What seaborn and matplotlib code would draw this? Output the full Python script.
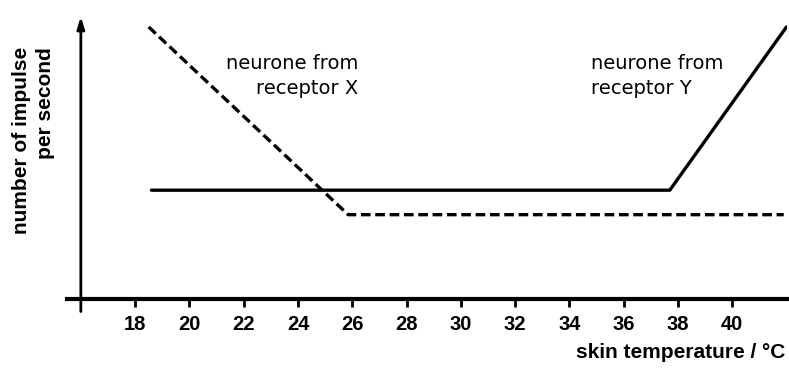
import matplotlib
matplotlib.use("Agg")
import matplotlib.pyplot as plt
import seaborn as sns
import pandas as pd

# ---- data ----
temp_receptor_x = [18.5, 25.85, 41.9]
rate_receptor_x = [100, 31, 31]
temp_receptor_y = [18.6, 37.7, 42.0]
rate_receptor_y = [40, 40, 100]
x_ticks = [18, 20, 22, 24, 26, 28, 30, 32, 34, 36, 38, 40]
label_x = "neurone from\nreceptor X"
label_y = "neurone from\nreceptor Y"
xlabel = "skin temperature / °C"
ylabel = "number of impulse\nper second"

sns.set_style("white")
plt.rcParams['font.family'] = ['DejaVu Sans']
plt.rcParams['text.color'] = 'black'
plt.rcParams['xtick.color'] = 'black'

W, H = 789, 372
fig = plt.figure(figsize=(W / 100, H / 100), dpi=100)
ax = fig.add_axes([67 / W, 1 - 310 / H, 720 / W, 295 / H])

df_x = pd.DataFrame({"temp": temp_receptor_x, "rate": rate_receptor_x})
df_y = pd.DataFrame({"temp": temp_receptor_y, "rate": rate_receptor_y})

sns.lineplot(data=df_x, x="temp", y="rate", ax=ax, color="black",
             linewidth=2.4, estimator=None, sort=False)
ax.lines[-1].set_dashes((2.9, 1.4))
sns.lineplot(data=df_y, x="temp", y="rate", ax=ax, color="black",
             linewidth=2.4, estimator=None, sort=False)

ax.set_xlim(15.49, 42.02)
ax.set_ylim(-4.04, 104.4)

for s in ["left", "top", "right"]:
    ax.spines[s].set_visible(False)
ax.spines["bottom"].set_position(("data", 0))
ax.spines["bottom"].set_linewidth(3.0)
ax.spines["bottom"].set_color("black")

ax.set_xticks(x_ticks)
ax.set_xticklabels([str(t) for t in x_ticks], fontfamily="Liberation Sans",
                   fontweight="bold", fontsize=14.5, color="black")
ax.tick_params(axis="x", direction="out", length=5.5, width=2, color="black",
               pad=6, bottom=True)
ax.set_yticks([])
ax.set_xlabel("")
ax.set_ylabel("")

# y axis with arrow
ax.annotate("", xy=(16.0, 103.8), xytext=(16.0, -4.6),
            arrowprops=dict(arrowstyle="-|>,head_length=0.7,head_width=0.22",
                            lw=2.0, color="black", shrinkA=0, shrinkB=0),
            annotation_clip=False)

ax.text(26.22, 82.0, label_x, ha="right", va="center", fontsize=14,
        multialignment="right", linespacing=1.35, color="black")
ax.text(34.80, 82.0, label_y, ha="left", va="center", fontsize=14,
        multialignment="left", linespacing=1.35, color="black")

fig.text(785 / W, 1 - 352 / H, xlabel, ha="right", va="center",
         fontfamily="Liberation Sans", fontweight="bold", fontsize=15,
         color="black")
fig.text(12 / W, 1 - 47 / H, ylabel, ha="left", va="top", rotation=90,
         multialignment="right", fontfamily="Liberation Sans",
         fontweight="bold", fontsize=15, linespacing=1.3, color="black")

fig.savefig("out.png", dpi=100)
